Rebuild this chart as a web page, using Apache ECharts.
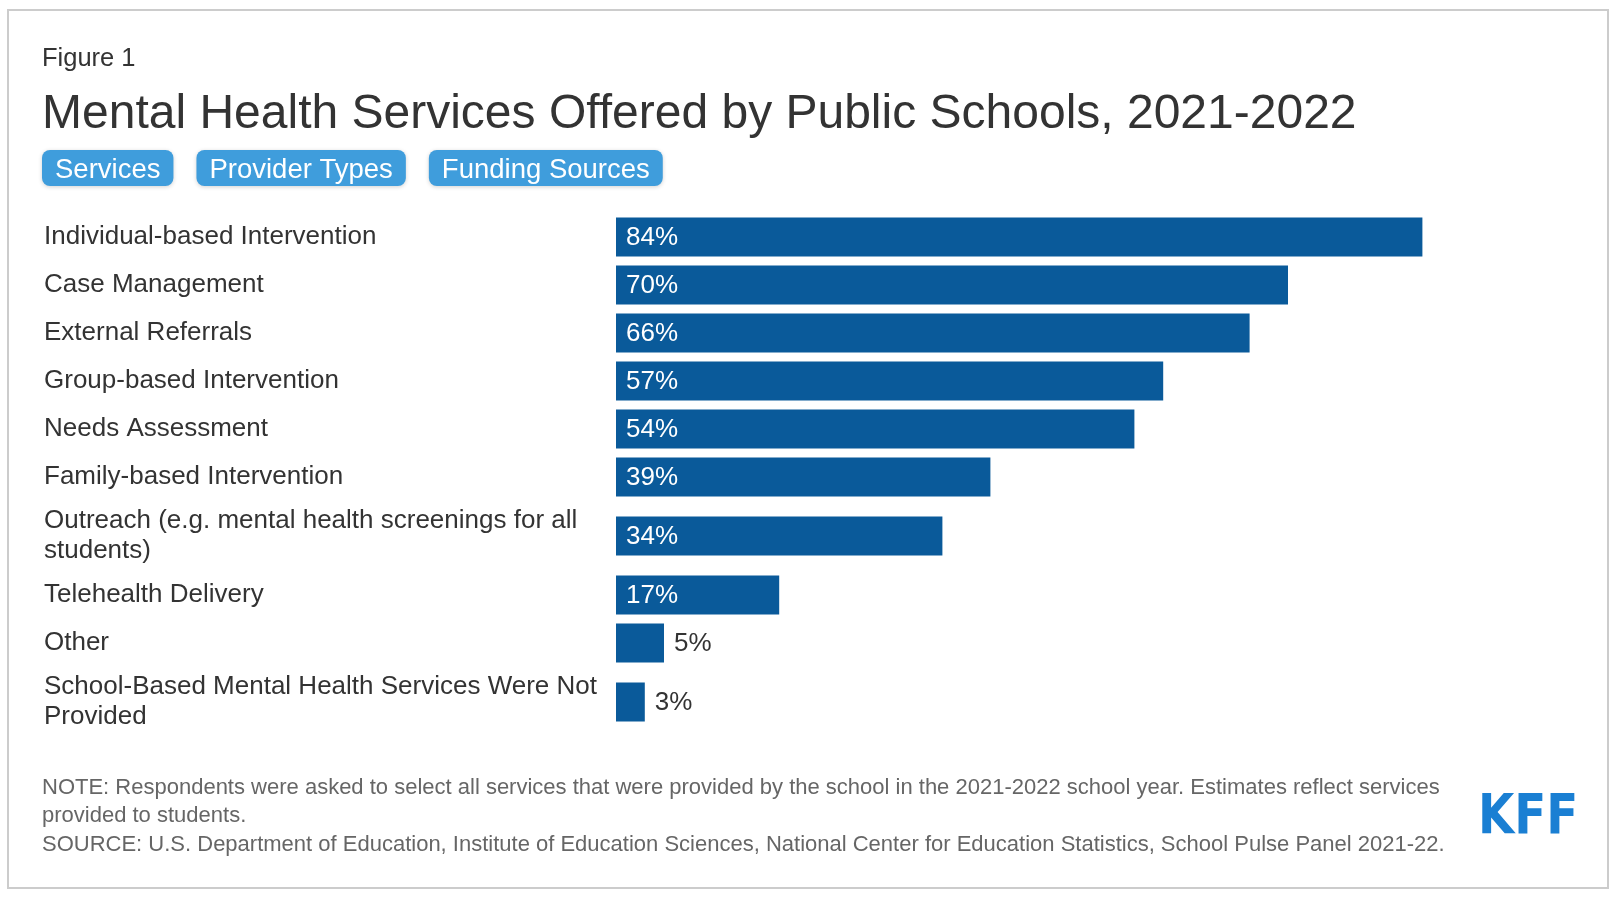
<!DOCTYPE html>
<html><head><meta charset="utf-8">
<script src="https://cdn.jsdelivr.net/npm/echarts@6/dist/echarts.min.js"></script>
<style>html,body{margin:0;padding:0;background:#fff;} #chart{width:1620px;height:902px;}</style>
</head><body><div id="chart"></div>
<script>
const figureLabel = 'Figure 1';
const titleText = 'Mental Health Services Offered by Public Schools, 2021-2022';
const tabs = ['Services', 'Provider Types', 'Funding Sources'];
const categories = [
  'Individual-based Intervention',
  'Case Management',
  'External Referrals',
  'Group-based Intervention',
  'Needs Assessment',
  'Family-based Intervention',
  'Outreach (e.g. mental health screenings for all students)',
  'Telehealth Delivery',
  'Other',
  'School-Based Mental Health Services Were Not Provided'
];
const values = [84, 70, 66, 57, 54, 39, 34, 17, 5, 3];
const noteLines = [
  'NOTE: Respondents were asked to select all services that were provided by the school in the 2021-2022 school year. Estimates reflect services',
  'provided to students.'
];
const sourceText = 'SOURCE: U.S. Department of Education, Institute of Education Sciences, National Center for Education Statistics, School Pulse Panel 2021-22.';
const logoText = 'KFF';

const FONT = '"Liberation Sans", Arial, Helvetica, sans-serif';
const BAR_COLOR = '#0a5a9a';
const TAB_COLOR = '#3f9ddc';
const TEXT_COLOR = '#333333';
const LABEL_SIZE = 26, LINE_H = 30.5, BAR_H = 39, GAP = 9, WRAP_W = 570;

const cv = document.createElement('canvas');
const ctx = cv.getContext('2d');
function textWidth(t, size, weight) {
  ctx.font = (weight || 'normal') + ' ' + size + 'px ' + FONT;
  return ctx.measureText(t).width;
}
function countLines(t, size, maxW) {
  const words = t.split(' ');
  let lines = 1, cur = '';
  for (const w of words) {
    const trial = cur ? cur + ' ' + w : w;
    if (cur && textWidth(trial, size) > maxW) { lines++; cur = w; } else { cur = trial; }
  }
  return lines;
}

// row layout derived from label line counts
const rowH = categories.map(c => Math.max(BAR_H, countLines(c, LABEL_SIZE, WRAP_W) * LINE_H) + GAP);
const centers = [];
let acc = 0;
rowH.forEach(h => { centers.push(acc + h / 2); acc += h; });
const total = acc;

const graphics = [];
graphics.push({type:'rect', shape:{x:8, y:10, width:1600, height:878}, style:{fill:'none', stroke:'#cccccc', lineWidth:2}, silent:true});
graphics.push({type:'text', style:{x:42, y:59, text:figureLabel, font:'25.5px ' + FONT, fill:TEXT_COLOR, verticalAlign:'middle'}});
graphics.push({type:'text', style:{x:42, y:115, text:titleText, font:'48px ' + FONT, fill:TEXT_COLOR, verticalAlign:'middle'}});
let tx = 42;
tabs.forEach(t => {
  const w = textWidth(t, 27.5) + 26;
  graphics.push({type:'rect', shape:{x:tx, y:150, width:w, height:36, r:8}, style:{fill:TAB_COLOR, shadowBlur:4, shadowColor:'rgba(0,0,0,0.18)', shadowOffsetY:1}});
  graphics.push({type:'text', style:{x:tx + w / 2, y:170, text:t, font:'27.5px ' + FONT, fill:'#ffffff', align:'center', verticalAlign:'middle'}});
  tx += w + 23;
});
noteLines.forEach((line, i) => {
  graphics.push({type:'text', style:{x:42, y:788 + i * 28, text:line, font:'22px ' + FONT, fill:'#666666', verticalAlign:'middle'}});
});
graphics.push({type:'text', style:{x:42, y:845, text:sourceText, font:'22px ' + FONT, fill:'#666666', verticalAlign:'middle'}});
graphics.push({type:'text', x:1478, y:818, scaleX:0.93, style:{x:0, y:0, text:logoText, font:'bold 56px "Liberation Sans Narrow", "DejaVu Sans Condensed", sans-serif', fill:'#1a7fd3', verticalAlign:'middle'}});

const chart = echarts.init(document.getElementById('chart'), null, {renderer:'canvas'});
chart.setOption({
  animation: false,
  backgroundColor: '#ffffff',
  graphic: graphics,
  grid: {left:616, top:213, width:960, height:total, containLabel:false},
  xAxis: {type:'value', min:0, max:100, show:false},
  yAxis: {
    type:'value', inverse:true, min:0, max:total,
    axisLine:{show:false}, axisTick:{show:false}, splitLine:{show:false},
    axisLabel: {
      customValues: centers,
      formatter: function (val) {
        let best = 0, d = Infinity;
        centers.forEach((c, i) => { if (Math.abs(c - val) < d) { d = Math.abs(c - val); best = i; } });
        return categories[best];
      },
      align:'left', margin:572, width:WRAP_W, overflow:'break',
      fontSize:LABEL_SIZE, lineHeight:LINE_H, color:TEXT_COLOR, fontFamily:FONT
    }
  },
  series: [{
    type:'custom',
    data: values.map((v, i) => [v, centers[i]]),
    encode: {x:0, y:1},
    renderItem: function (params, api) {
      const v = api.value(0), c = api.value(1);
      const a = api.coord([0, c]), b = api.coord([v, c]);
      const w = b[0] - a[0];
      const label = v + '%';
      const lw = textWidth(label, LABEL_SIZE);
      const inside = w > lw + 24;
      return {type:'group', children:[
        {type:'rect', shape:{x:a[0], y:a[1] - BAR_H / 2, width:w, height:BAR_H}, style:{fill:BAR_COLOR}},
        {type:'text', style:{x: inside ? a[0] + 10 : b[0] + 10, y:a[1] + 1, text:label, font:LABEL_SIZE + 'px ' + FONT, fill: inside ? '#ffffff' : TEXT_COLOR, align:'left', verticalAlign:'middle'}}
      ]};
    }
  }]
});
</script>
</body></html>
